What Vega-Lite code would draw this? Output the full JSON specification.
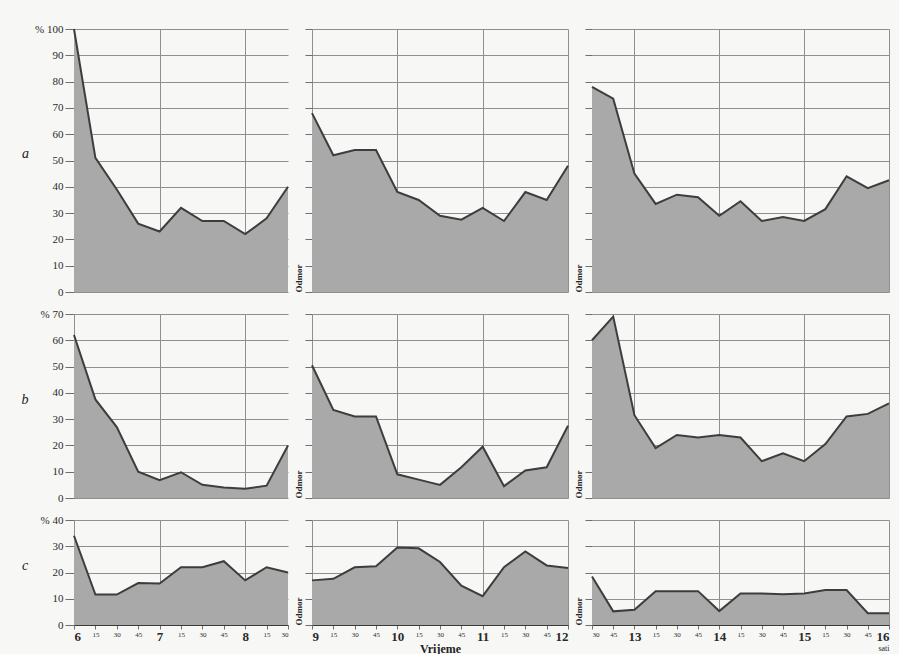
{
  "$schema": "https://vega.github.io/schema/vega-lite/v6.json",
  "background": "#f7f7f5",
  "padding": {"left": 21, "top": 23, "right": 6, "bottom": 0},
  "datasets": {
    "d": [
      {"r": "a", "t": 6, "v": 100}, {"r": "a", "t": 6.25, "v": 51}, {"r": "a", "t": 6.5, "v": 39}, {"r": "a", "t": 6.75, "v": 26},
      {"r": "a", "t": 7, "v": 23}, {"r": "a", "t": 7.25, "v": 32}, {"r": "a", "t": 7.5, "v": 27}, {"r": "a", "t": 7.75, "v": 27},
      {"r": "a", "t": 8, "v": 22}, {"r": "a", "t": 8.25, "v": 28}, {"r": "a", "t": 8.5, "v": 40},
      {"r": "a", "t": 9, "v": 68}, {"r": "a", "t": 9.25, "v": 52}, {"r": "a", "t": 9.5, "v": 54}, {"r": "a", "t": 9.75, "v": 54},
      {"r": "a", "t": 10, "v": 38}, {"r": "a", "t": 10.25, "v": 35}, {"r": "a", "t": 10.5, "v": 29}, {"r": "a", "t": 10.75, "v": 27.5},
      {"r": "a", "t": 11, "v": 32}, {"r": "a", "t": 11.25, "v": 27}, {"r": "a", "t": 11.5, "v": 38}, {"r": "a", "t": 11.75, "v": 35},
      {"r": "a", "t": 12, "v": 48},
      {"r": "a", "t": 12.5, "v": 78}, {"r": "a", "t": 12.75, "v": 73.5}, {"r": "a", "t": 13, "v": 45}, {"r": "a", "t": 13.25, "v": 33.5},
      {"r": "a", "t": 13.5, "v": 37}, {"r": "a", "t": 13.75, "v": 36}, {"r": "a", "t": 14, "v": 29}, {"r": "a", "t": 14.25, "v": 34.5},
      {"r": "a", "t": 14.5, "v": 27}, {"r": "a", "t": 14.75, "v": 28.5}, {"r": "a", "t": 15, "v": 27}, {"r": "a", "t": 15.25, "v": 31.5},
      {"r": "a", "t": 15.5, "v": 44}, {"r": "a", "t": 15.75, "v": 39.5}, {"r": "a", "t": 16, "v": 42.5},

      {"r": "b", "t": 6, "v": 62}, {"r": "b", "t": 6.25, "v": 37.5}, {"r": "b", "t": 6.5, "v": 27}, {"r": "b", "t": 6.75, "v": 10},
      {"r": "b", "t": 7, "v": 6.8}, {"r": "b", "t": 7.25, "v": 9.8}, {"r": "b", "t": 7.5, "v": 5}, {"r": "b", "t": 7.75, "v": 4},
      {"r": "b", "t": 8, "v": 3.5}, {"r": "b", "t": 8.25, "v": 4.7}, {"r": "b", "t": 8.5, "v": 20},
      {"r": "b", "t": 9, "v": 50.5}, {"r": "b", "t": 9.25, "v": 33.5}, {"r": "b", "t": 9.5, "v": 31}, {"r": "b", "t": 9.75, "v": 31},
      {"r": "b", "t": 10, "v": 9}, {"r": "b", "t": 10.25, "v": 7}, {"r": "b", "t": 10.5, "v": 5}, {"r": "b", "t": 10.75, "v": 11.7},
      {"r": "b", "t": 11, "v": 19.5}, {"r": "b", "t": 11.25, "v": 4.5}, {"r": "b", "t": 11.5, "v": 10.5}, {"r": "b", "t": 11.75, "v": 11.7},
      {"r": "b", "t": 12, "v": 27.5},
      {"r": "b", "t": 12.5, "v": 60}, {"r": "b", "t": 12.75, "v": 69}, {"r": "b", "t": 13, "v": 31.5}, {"r": "b", "t": 13.25, "v": 19},
      {"r": "b", "t": 13.5, "v": 24}, {"r": "b", "t": 13.75, "v": 23}, {"r": "b", "t": 14, "v": 24}, {"r": "b", "t": 14.25, "v": 23},
      {"r": "b", "t": 14.5, "v": 14}, {"r": "b", "t": 14.75, "v": 17}, {"r": "b", "t": 15, "v": 14}, {"r": "b", "t": 15.25, "v": 20.5},
      {"r": "b", "t": 15.5, "v": 31}, {"r": "b", "t": 15.75, "v": 32}, {"r": "b", "t": 16, "v": 36},

      {"r": "c", "t": 6, "v": 34}, {"r": "c", "t": 6.25, "v": 11.6}, {"r": "c", "t": 6.5, "v": 11.6}, {"r": "c", "t": 6.75, "v": 16},
      {"r": "c", "t": 7, "v": 15.8}, {"r": "c", "t": 7.25, "v": 22}, {"r": "c", "t": 7.5, "v": 22}, {"r": "c", "t": 7.75, "v": 24.3},
      {"r": "c", "t": 8, "v": 17}, {"r": "c", "t": 8.25, "v": 22}, {"r": "c", "t": 8.5, "v": 20},
      {"r": "c", "t": 9, "v": 17}, {"r": "c", "t": 9.25, "v": 17.6}, {"r": "c", "t": 9.5, "v": 22}, {"r": "c", "t": 9.75, "v": 22.4},
      {"r": "c", "t": 10, "v": 29.5}, {"r": "c", "t": 10.25, "v": 29.2}, {"r": "c", "t": 10.5, "v": 24}, {"r": "c", "t": 10.75, "v": 15},
      {"r": "c", "t": 11, "v": 11}, {"r": "c", "t": 11.25, "v": 22}, {"r": "c", "t": 11.5, "v": 28}, {"r": "c", "t": 11.75, "v": 22.7},
      {"r": "c", "t": 12, "v": 21.7},
      {"r": "c", "t": 12.5, "v": 18.5}, {"r": "c", "t": 12.75, "v": 5.2}, {"r": "c", "t": 13, "v": 5.8}, {"r": "c", "t": 13.25, "v": 12.9},
      {"r": "c", "t": 13.5, "v": 12.9}, {"r": "c", "t": 13.75, "v": 12.9}, {"r": "c", "t": 14, "v": 5.3}, {"r": "c", "t": 14.25, "v": 12},
      {"r": "c", "t": 14.5, "v": 12}, {"r": "c", "t": 14.75, "v": 11.7}, {"r": "c", "t": 15, "v": 12}, {"r": "c", "t": 15.25, "v": 13.3},
      {"r": "c", "t": 15.5, "v": 13.3}, {"r": "c", "t": 15.75, "v": 4.5}, {"r": "c", "t": 16, "v": 4.5}
    ]
  },
  "columns": 3,
  "spacing": {"row": 22, "column": 24},
  "bounds": "flush",
  "concat": [
    {
      "width": 214, "height": 263,
      "data": {"name": "d"},
      "transform": [{"filter": "datum.r === 'a' && datum.t >= 6 && datum.t <= 8.5"}],
      "mark": {"type": "area", "color": "#a9a9a9", "opacity": 1, "line": {"color": "#3d3d3d", "strokeWidth": 2}},
      "encoding": {
        "x": {"field": "t", "type": "quantitative", "scale": {"domain": [6, 8.5], "nice": false, "zero": false},
          "axis": {"values": [6, 7, 8], "labels": false, "ticks": false, "domain": false, "grid": true, "title": null}},
        "y": {"field": "v", "type": "quantitative", "scale": {"domain": [0, 100], "nice": false},
          "axis": {"values": [0, 10, 20, 30, 40, 50, 60, 70, 80, 90, 100], "labelExpr": "datum.value === 100 ? '%   100' : datum.label",
            "tickSize": 9, "labelPadding": 2, "domain": false, "grid": true, "title": "a", "titleAngle": 0,
            "titleFontStyle": "italic", "titleFontWeight": "normal", "titleFontSize": 14, "titlePadding": 4}}
      }
    },
    {
      "width": 256, "height": 263,
      "data": {"name": "d"},
      "transform": [{"filter": "datum.r === 'a' && datum.t >= 9 && datum.t <= 12"}],
      "mark": {"type": "area", "color": "#a9a9a9", "opacity": 1, "line": {"color": "#3d3d3d", "strokeWidth": 2}},
      "encoding": {
        "x": {"field": "t", "type": "quantitative", "scale": {"domain": [9, 12], "nice": false, "zero": false},
          "axis": {"values": [9, 10, 11, 12], "labels": false, "ticks": false, "domain": false, "grid": true, "title": null}},
        "y": {"field": "v", "type": "quantitative", "scale": {"domain": [0, 100], "nice": false},
          "axis": {"values": [0, 10, 20, 30, 40, 50, 60, 70, 80, 90, 100], "labels": false, "tickSize": 7, "domain": false, "grid": true,
            "title": "Odmor", "titleAnchor": "start", "titleFontSize": 9, "titleFontWeight": "bold", "titlePadding": 1}}
      }
    },
    {
      "width": 297, "height": 263,
      "data": {"name": "d"},
      "transform": [{"filter": "datum.r === 'a' && datum.t >= 12.5 && datum.t <= 16"}],
      "mark": {"type": "area", "color": "#a9a9a9", "opacity": 1, "line": {"color": "#3d3d3d", "strokeWidth": 2}},
      "encoding": {
        "x": {"field": "t", "type": "quantitative", "scale": {"domain": [12.5, 16], "nice": false, "zero": false},
          "axis": {"values": [13, 14, 15, 16], "labels": false, "ticks": false, "domain": false, "grid": true, "title": null}},
        "y": {"field": "v", "type": "quantitative", "scale": {"domain": [0, 100], "nice": false},
          "axis": {"values": [0, 10, 20, 30, 40, 50, 60, 70, 80, 90, 100], "labels": false, "tickSize": 7, "domain": false, "grid": true,
            "title": "Odmor", "titleAnchor": "start", "titleFontSize": 9, "titleFontWeight": "bold", "titlePadding": 1}}
      }
    },
    {
      "width": 214, "height": 184,
      "data": {"name": "d"},
      "transform": [{"filter": "datum.r === 'b' && datum.t >= 6 && datum.t <= 8.5"}],
      "mark": {"type": "area", "color": "#a9a9a9", "opacity": 1, "line": {"color": "#3d3d3d", "strokeWidth": 2}},
      "encoding": {
        "x": {"field": "t", "type": "quantitative", "scale": {"domain": [6, 8.5], "nice": false, "zero": false},
          "axis": {"values": [6, 7, 8], "labels": false, "ticks": false, "domain": false, "grid": true, "title": null}},
        "y": {"field": "v", "type": "quantitative", "scale": {"domain": [0, 70], "nice": false},
          "axis": {"values": [0, 10, 20, 30, 40, 50, 60, 70], "labelExpr": "datum.value === 70 ? '%   70' : datum.label",
            "tickSize": 9, "labelPadding": 2, "domain": false, "grid": true, "title": "b", "titleAngle": 0,
            "titleFontStyle": "italic", "titleFontWeight": "normal", "titleFontSize": 14, "titlePadding": 10}}
      }
    },
    {
      "width": 256, "height": 184,
      "data": {"name": "d"},
      "transform": [{"filter": "datum.r === 'b' && datum.t >= 9 && datum.t <= 12"}],
      "mark": {"type": "area", "color": "#a9a9a9", "opacity": 1, "line": {"color": "#3d3d3d", "strokeWidth": 2}},
      "encoding": {
        "x": {"field": "t", "type": "quantitative", "scale": {"domain": [9, 12], "nice": false, "zero": false},
          "axis": {"values": [9, 10, 11, 12], "labels": false, "ticks": false, "domain": false, "grid": true, "title": null}},
        "y": {"field": "v", "type": "quantitative", "scale": {"domain": [0, 70], "nice": false},
          "axis": {"values": [0, 10, 20, 30, 40, 50, 60, 70], "labels": false, "tickSize": 7, "domain": false, "grid": true,
            "title": "Odmor", "titleAnchor": "start", "titleFontSize": 9, "titleFontWeight": "bold", "titlePadding": 1}}
      }
    },
    {
      "width": 297, "height": 184,
      "data": {"name": "d"},
      "transform": [{"filter": "datum.r === 'b' && datum.t >= 12.5 && datum.t <= 16"}],
      "mark": {"type": "area", "color": "#a9a9a9", "opacity": 1, "line": {"color": "#3d3d3d", "strokeWidth": 2}},
      "encoding": {
        "x": {"field": "t", "type": "quantitative", "scale": {"domain": [12.5, 16], "nice": false, "zero": false},
          "axis": {"values": [13, 14, 15, 16], "labels": false, "ticks": false, "domain": false, "grid": true, "title": null}},
        "y": {"field": "v", "type": "quantitative", "scale": {"domain": [0, 70], "nice": false},
          "axis": {"values": [0, 10, 20, 30, 40, 50, 60, 70], "labels": false, "tickSize": 7, "domain": false, "grid": true,
            "title": "Odmor", "titleAnchor": "start", "titleFontSize": 9, "titleFontWeight": "bold", "titlePadding": 1}}
      }
    },
    {
      "width": 214, "height": 105,
      "data": {"name": "d"},
      "transform": [{"filter": "datum.r === 'c' && datum.t >= 6 && datum.t <= 8.5"}],
      "mark": {"type": "area", "color": "#a9a9a9", "opacity": 1, "line": {"color": "#3d3d3d", "strokeWidth": 2}},
      "encoding": {
        "x": {"field": "t", "type": "quantitative", "scale": {"domain": [6, 8.5], "nice": false, "zero": false},
          "axis": {"values": [6, 6.25, 6.5, 6.75, 7, 7.25, 7.5, 7.75, 8, 8.25, 8.5], "grid": true,
            "gridOpacity": {"condition": {"test": "datum.value % 1 === 0", "value": 1}, "value": 0},
            "labelExpr": "datum.value % 1 === 0 ? format(datum.value, 'd') : format(round((datum.value % 1) * 60), 'd')",
            "labelFontSize": {"condition": {"test": "datum.value % 1 === 0", "value": 13}, "value": 7},
            "labelFontWeight": {"condition": {"test": "datum.value % 1 === 0", "value": "bold"}, "value": "normal"},
            "tickSize": 4, "labelPadding": 1, "domain": true, "title": null}},
        "y": {"field": "v", "type": "quantitative", "scale": {"domain": [0, 40], "nice": false},
          "axis": {"values": [0, 10, 20, 30, 40], "labelExpr": "datum.value === 40 ? '%   40' : datum.label",
            "tickSize": 9, "labelPadding": 2, "domain": false, "grid": true, "title": "c", "titleAngle": 0,
            "titleFontStyle": "italic", "titleFontWeight": "normal", "titleFontSize": 14, "titlePadding": 10}}
      }
    },
    {
      "width": 256, "height": 105,
      "data": {"name": "d"},
      "transform": [{"filter": "datum.r === 'c' && datum.t >= 9 && datum.t <= 12"}],
      "mark": {"type": "area", "color": "#a9a9a9", "opacity": 1, "line": {"color": "#3d3d3d", "strokeWidth": 2}},
      "encoding": {
        "x": {"field": "t", "type": "quantitative", "scale": {"domain": [9, 12], "nice": false, "zero": false},
          "axis": {"values": [9, 9.25, 9.5, 9.75, 10, 10.25, 10.5, 10.75, 11, 11.25, 11.5, 11.75, 12], "grid": true,
            "gridOpacity": {"condition": {"test": "datum.value % 1 === 0", "value": 1}, "value": 0},
            "labelExpr": "datum.value % 1 === 0 ? format(datum.value, 'd') : format(round((datum.value % 1) * 60), 'd')",
            "labelFontSize": {"condition": {"test": "datum.value % 1 === 0", "value": 13}, "value": 7},
            "labelFontWeight": {"condition": {"test": "datum.value % 1 === 0", "value": "bold"}, "value": "normal"},
            "tickSize": 4, "labelPadding": 1, "domain": true,
            "title": "Vrijeme", "titleFontSize": 12, "titleFontWeight": "bold", "titlePadding": 0}},
        "y": {"field": "v", "type": "quantitative", "scale": {"domain": [0, 40], "nice": false},
          "axis": {"values": [0, 10, 20, 30, 40], "labels": false, "tickSize": 7, "domain": false, "grid": true,
            "title": "Odmor", "titleAnchor": "start", "titleFontSize": 9, "titleFontWeight": "bold", "titlePadding": 1}}
      }
    },
    {
      "width": 297, "height": 105,
      "data": {"name": "d"},
      "transform": [{"filter": "datum.r === 'c' && datum.t >= 12.5 && datum.t <= 16"}],
      "mark": {"type": "area", "color": "#a9a9a9", "opacity": 1, "line": {"color": "#3d3d3d", "strokeWidth": 2}},
      "encoding": {
        "x": {"field": "t", "type": "quantitative", "scale": {"domain": [12.5, 16], "nice": false, "zero": false},
          "axis": {"values": [12.5, 12.75, 13, 13.25, 13.5, 13.75, 14, 14.25, 14.5, 14.75, 15, 15.25, 15.5, 15.75, 16], "grid": true,
            "gridOpacity": {"condition": {"test": "datum.value % 1 === 0", "value": 1}, "value": 0},
            "labelExpr": "datum.value % 1 === 0 ? format(datum.value, 'd') : format(round((datum.value % 1) * 60), 'd')",
            "labelFontSize": {"condition": {"test": "datum.value % 1 === 0", "value": 13}, "value": 7},
            "labelFontWeight": {"condition": {"test": "datum.value % 1 === 0", "value": "bold"}, "value": "normal"},
            "tickSize": 4, "labelPadding": 1, "domain": true,
            "title": "sati", "titleAnchor": "end", "titleFontSize": 8, "titleFontWeight": "normal", "titlePadding": 1}},
        "y": {"field": "v", "type": "quantitative", "scale": {"domain": [0, 40], "nice": false},
          "axis": {"values": [0, 10, 20, 30, 40], "labels": false, "tickSize": 7, "domain": false, "grid": true,
            "title": "Odmor", "titleAnchor": "start", "titleFontSize": 9, "titleFontWeight": "bold", "titlePadding": 1}}
      }
    }
  ],
  "config": {
    "view": {"stroke": null},
    "font": "Liberation Serif",
    "axis": {
      "labelFont": "Liberation Serif",
      "titleFont": "Liberation Serif",
      "labelFontSize": 11,
      "labelColor": "#2a2a2a",
      "titleColor": "#222222",
      "gridColor": "#8f8f8f",
      "gridWidth": 1,
      "tickColor": "#6f6f6f",
      "domainColor": "#3a3a3a"
    }
  }
}
